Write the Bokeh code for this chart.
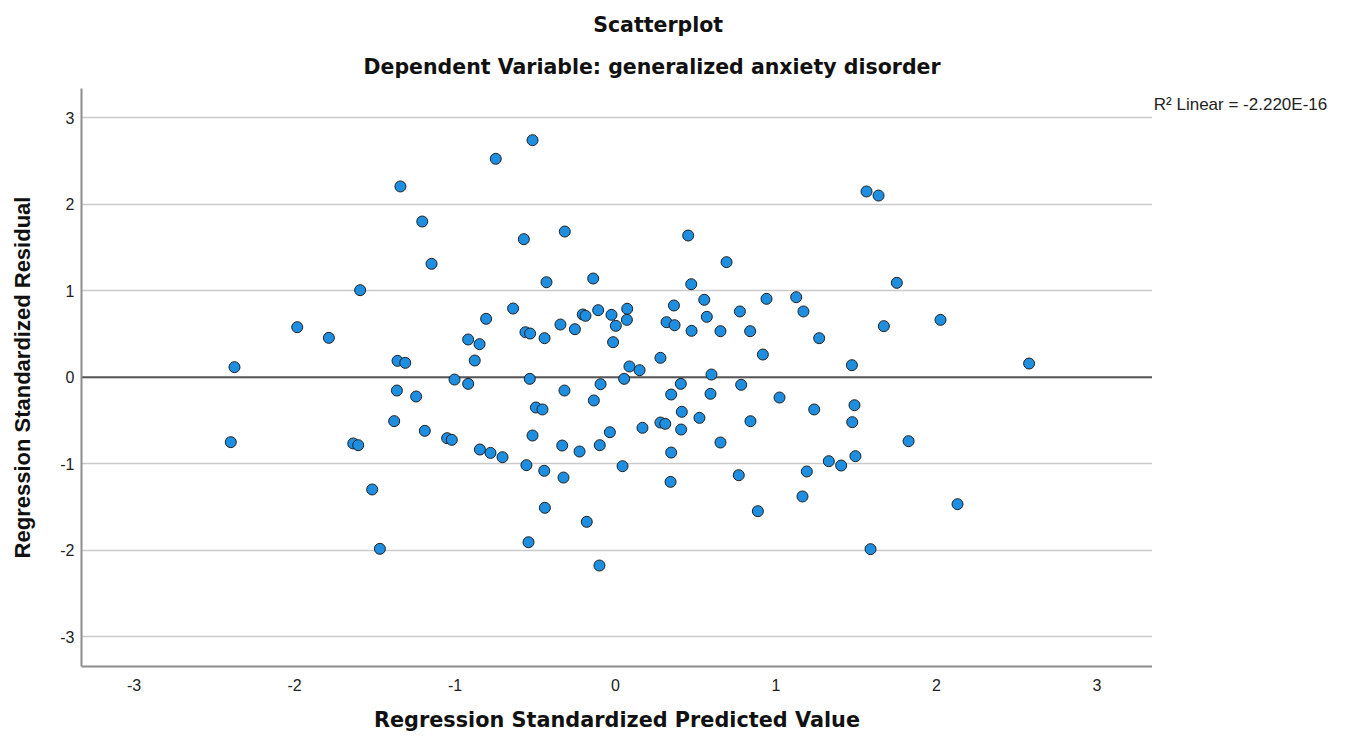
from bokeh.plotting import figure
from bokeh.layouts import row
from bokeh.models import Range1d, FixedTicker, Title, Label
from bokeh.embed import file_html
from bokeh.resources import INLINE

# ---- data ----
pred = [
    -1.340, -1.204, -1.146, -1.591, -1.983, -1.786, -2.374, -1.358, -1.310, -0.517,
    -0.746, -0.571, -0.316, 0.453, 0.692, -0.430, -0.139, 0.472, 0.553, 0.941,
    1.126, -0.638, -0.806, -0.918, -0.847, -0.877, -0.561, -0.532, -0.442, -0.343,
    -0.253, -0.204, -0.187, -0.108, -0.025, 0.073, 0.071, 0.002, -0.015, 0.087,
    0.150, 0.280, 0.318, 0.368, 0.364, 0.474, 0.569, 0.654, 0.775, 0.839,
    0.918, 0.598, -1.003, -0.918, -0.534, -0.318, -0.093, 0.054, 0.407, 0.783,
    1.564, 1.639, 1.753, 1.171, 1.269, 1.672, 2.025, 1.473, 2.577, -1.362,
    -1.242, -1.379, -1.188, -1.049, -1.020, -2.397, -1.634, -1.603, -1.516, -1.468,
    -0.135, 0.347, 0.592, 1.022, -0.496, -0.455, 0.413, 0.523, 0.280, 0.310,
    0.409, 0.841, 0.168, -0.035, -0.517, -0.845, -0.779, -0.704, -0.332, -0.224,
    -0.098, 0.654, 0.347, -0.555, -0.444, -0.324, 0.044, 0.343, 0.768, -0.440,
    -0.179, 0.887, -0.542, -0.100, 1.238, 1.489, 1.475, 1.826, 1.329, 1.406,
    1.495, 1.192, 1.165, 2.131, 1.589,
]
resid = [
    2.205, 1.800, 1.311, 1.006, 0.578, 0.455, 0.116, 0.189, 0.166, 2.740,
    2.525, 1.596, 1.684, 1.638, 1.330, 1.098, 1.141, 1.075, 0.895, 0.906,
    0.925, 0.794, 0.675, 0.436, 0.382, 0.193, 0.520, 0.505, 0.451, 0.609,
    0.555, 0.725, 0.710, 0.775, 0.721, 0.791, 0.663, 0.594, 0.405, 0.124,
    0.081, 0.224, 0.636, 0.601, 0.829, 0.536, 0.698, 0.532, 0.760, 0.532,
    0.262, 0.031, -0.027, -0.077, -0.019, -0.154, -0.081, -0.019, -0.077, -0.088,
    2.147, 2.100, 1.091, 0.760, 0.451, 0.590, 0.663, 0.139, 0.158, -0.154,
    -0.223, -0.508, -0.620, -0.705, -0.724, -0.751, -0.766, -0.786, -1.298, -1.984,
    -0.269, -0.200, -0.192, -0.235, -0.350, -0.373, -0.400, -0.470, -0.524, -0.539,
    -0.605, -0.509, -0.585, -0.636, -0.674, -0.836, -0.875, -0.925, -0.790, -0.859,
    -0.786, -0.755, -0.871, -1.017, -1.082, -1.160, -1.029, -1.210, -1.133, -1.510,
    -1.672, -1.549, -1.908, -2.177, -0.373, -0.324, -0.520, -0.740, -0.971, -1.021,
    -0.913, -1.090, -1.379, -1.468, -1.988,
]
x_ticks = [-3, -2, -1, 0, 1, 2, 3]
y_ticks = [-3, -2, -1, 0, 1, 2, 3]
fit_intercept = 0.0
fit_slope = 0.0
title_text = "Scatterplot"
subtitle_text = "Dependent Variable: generalized anxiety disorder"
x_title = "Regression Standardized Predicted Value"
y_title = "Regression Standardized Residual"
r2_label = "R\u00b2 Linear = -2.220E-16"

# ---- layout constants (pixels) ----
W, H = 1345, 744
FL, FR, FT, FB = 81, 1152, 88, 666
X0PX, XUNIT = 615.0, 160.5
Y0PX, YUNIT = 376.7, 86.5


def dx(px):
    return (px - X0PX) / XUNIT


def dy(py):
    return (Y0PX - py) / YUNIT


x_lo, x_hi = dx(FL), dx(FR)

p = figure(
    width=FR, height=H,
    x_range=Range1d(x_lo, x_hi),
    y_range=Range1d(dy(FB), dy(FT)),
    output_backend="svg", toolbar_location=None,
    min_border_left=FL, min_border_right=0,
    min_border_top=FT, min_border_bottom=H - FB,
    background_fill_color="white", border_fill_color="white",
)
p.outline_line_color = None

for ax, ticks in ((p.xaxis, x_ticks), (p.yaxis, y_ticks)):
    ax.ticker = FixedTicker(ticks=ticks)
    ax.major_label_overrides = {t: str(t) for t in ticks}
    ax.major_tick_line_color = None
    ax.minor_tick_line_color = None
    ax.major_tick_out = 0
    ax.major_tick_in = 0
    ax.axis_line_color = "#8c8c8c"
    ax.axis_line_width = 2
    ax.major_label_text_font = "Liberation Sans"
    ax.major_label_text_font_size = "16px"
    ax.major_label_text_color = "#222222"

p.xaxis.major_label_standoff = 12
p.yaxis.major_label_standoff = 7

p.xaxis.axis_label = x_title
p.xaxis.axis_label_text_font = "DejaVu Sans"
p.xaxis.axis_label_text_font_style = "bold"
p.xaxis.axis_label_text_font_size = "20.8px"
p.xaxis.axis_label_text_color = "#111111"
p.xaxis.axis_label_standoff = 14

p.yaxis.axis_label = y_title
p.yaxis.axis_label_text_font = "Liberation Sans"
p.yaxis.axis_label_text_font_style = "bold"
p.yaxis.axis_label_text_font_size = "22px"
p.yaxis.axis_label_text_color = "#111111"
p.yaxis.axis_label_standoff = 22

p.xgrid.visible = False
p.ygrid.grid_line_color = "#cacaca"
p.ygrid.grid_line_width = 1.6

# fit line (linear fit of residual on predicted value)
fit_x = [x_lo, x_hi]
fit_y = [fit_intercept + fit_slope * v for v in fit_x]
p.line(fit_x, fit_y, line_color="#575757", line_width=2)

p.scatter(pred, resid, size=11, fill_color="#1E8FE0", line_color="#1f1f1f",
          line_width=1)

# ---- titles (p.title is the outermost) ----
p.title.text = title_text
p.title.align = "left"
p.title.offset = 511.7
p.title.standoff = 13
p.title.text_font = "DejaVu Sans"
p.title.text_font_style = "bold"
p.title.text_font_size = "20.5px"
p.title.text_color = "#111111"

sub_title = Title(text=subtitle_text, align="left", offset=282, standoff=19,
                  text_font="DejaVu Sans", text_font_style="bold",
                  text_font_size="20.5px", text_color="#111111")
p.add_layout(sub_title, "above")

# ---- side strip to the right of the plot area holding the R² fit label ----
# its frame is aligned with the main plot frame, so map it in page pixels
SW = W - FR
side = figure(
    width=SW, height=H, x_range=Range1d(0, SW), y_range=Range1d(FB, FT),
    output_backend="svg", toolbar_location=None,
    x_axis_type=None, y_axis_type=None,
    min_border_left=0, min_border_right=0,
    min_border_top=FT, min_border_bottom=H - FB,
    background_fill_color="white", border_fill_color="white",
)
side.outline_line_color = None
side.xgrid.visible = False
side.ygrid.visible = False
side.add_layout(Label(x=1.3, y=104, text=r2_label, text_align="left",
                      text_baseline="alphabetic", text_font="Liberation Sans",
                      text_font_size="17px", text_color="#222222"))

layout = row(p, side, spacing=0)

open("out.html", "w").write(file_html(layout, INLINE))
